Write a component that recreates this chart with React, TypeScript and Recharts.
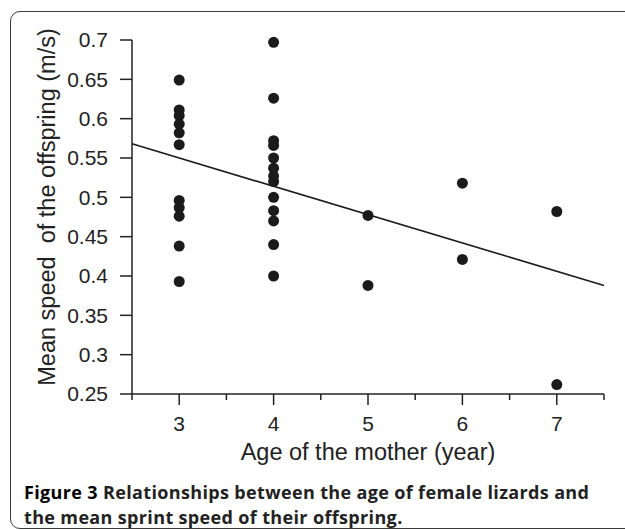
import React from 'react';
import { ScatterChart, Scatter, XAxis, YAxis, ReferenceLine } from 'recharts';

// mean sprint speed (m/s) of offspring, grouped by mother's age
const ages = [3, 4, 5, 6, 7];
const speedsAge3 = [0.649, 0.611, 0.604, 0.593, 0.582, 0.567, 0.496, 0.487, 0.476, 0.438, 0.393];
const speedsAge4 = [0.697, 0.626, 0.572, 0.566, 0.55, 0.537, 0.527, 0.52, 0.5, 0.483, 0.47, 0.44, 0.4];
const speedsAge5 = [0.477, 0.388];
const speedsAge6 = [0.518, 0.421];
const speedsAge7 = [0.482, 0.262];

// fitted regression line end points
const fitX = [2.5, 7.5];
const fitY = [0.568, 0.388];

const xTicks = [2.5, 3, 3.5, 4, 4.5, 5, 5.5, 6, 6.5, 7, 7.5];
const yTicks = [0.25, 0.3, 0.35, 0.4, 0.45, 0.5, 0.55, 0.6, 0.65, 0.7];

const groups = [speedsAge3, speedsAge4, speedsAge5, speedsAge6, speedsAge7];
const points = groups.flatMap((g, i) => g.map((v) => ({ x: ages[i], y: v })));

const font = '"Liberation Sans", Arial, Helvetica, sans-serif';
const ink = '#222';

const XTick = (props: any) => {
  const { x, y, payload } = props;
  const major = Number.isInteger(payload.value);
  return (
    <g>
      <line x1={x} x2={x} y1={y} y2={y + (major ? 11 : 6)} stroke={ink} strokeWidth={1.5} />
      {major && (
        <text x={x} y={y + 37} textAnchor="middle" fontSize={21} fill={ink} fontFamily={font}>
          {payload.value}
        </text>
      )}
    </g>
  );
};

const Dot = (props: any) => <circle cx={props.cx} cy={props.cy} r={5.5} fill="#1b1b1b" />;

const XLabel = (props: any) => {
  const vb = props.viewBox;
  return (
    <text x={vb.x + vb.width / 2} y={vb.y + 66} textAnchor="middle" fontSize={23.5} fill={ink} fontFamily={font}>
      Age of the mother (year)
    </text>
  );
};

const YLabel = (props: any) => {
  const vb = props.viewBox;
  const cx = vb.x + 47;
  const cy = vb.y + vb.height / 2 - 10;
  return (
    <text
      x={cx}
      y={cy}
      transform={`rotate(-90, ${cx}, ${cy})`}
      textAnchor="middle"
      dominantBaseline="central"
      fontSize={23.5}
      fill={ink}
      fontFamily={font}
      style={{ whiteSpace: 'pre' }}
    >
      Mean speed  of the offspring (m/s)
    </text>
  );
};

const captionStyle: React.CSSProperties = {
  position: 'absolute',
  left: 24,
  whiteSpace: 'nowrap',
  fontFamily: '"Open Sans", "Noto Sans", sans-serif',
  fontWeight: 700,
  fontSize: 18,
  letterSpacing: 0.35,
  lineHeight: '25px',
  color: '#222',
};

export default function App() {
  return (
    <div style={{ position: 'absolute', left: 0, top: 0, width: 625, height: 530, overflow: 'hidden', background: '#fff' }}>
      <div
        style={{
          position: 'absolute',
          left: 10,
          top: 11,
          width: 650,
          height: 518,
          border: '1.5px solid #3a3a3a',
          borderRadius: 10,
          boxSizing: 'border-box',
        }}
      />
      <div style={{ position: 'absolute', left: 0, top: 0 }}>
        <ScatterChart width={625} height={470} margin={{ top: 40, right: 21, bottom: 16, left: 0 }}>
          <XAxis
            type="number"
            dataKey="x"
            domain={[2.5, 7.5]}
            ticks={xTicks}
            interval={0}
            tickSize={0}
            tickMargin={0}
            tickLine={false}
            tick={<XTick />}
            height={60}
            axisLine={{ stroke: ink, strokeWidth: 1.5 }}
            label={<XLabel />}
          />
          <YAxis
            type="number"
            dataKey="y"
            domain={[0.25, 0.7]}
            ticks={yTicks}
            interval={0}
            width={132}
            tickSize={12}
            tickMargin={12}
            tick={{ fontSize: 21, fill: ink, fontFamily: font }}
            tickLine={{ stroke: ink, strokeWidth: 1.5 }}
            axisLine={{ stroke: ink, strokeWidth: 1.5 }}
            label={<YLabel />}
          />
          <ReferenceLine
            segment={[
              { x: fitX[0], y: fitY[0] },
              { x: fitX[1], y: fitY[1] },
            ]}
            stroke="#1b1b1b"
            strokeWidth={1.6}
            ifOverflow="visible"
          />
          <Scatter data={points} shape={<Dot />} isAnimationActive={false} />
        </ScatterChart>
      </div>
      <div style={{ ...captionStyle, top: 480 }}>
        <span style={{ color: '#000' }}>Figure 3</span> Relationships between the age of female lizards and
      </div>
      <div style={{ ...captionStyle, top: 505 }}>the mean sprint speed of their offspring.</div>
    </div>
  );
}
